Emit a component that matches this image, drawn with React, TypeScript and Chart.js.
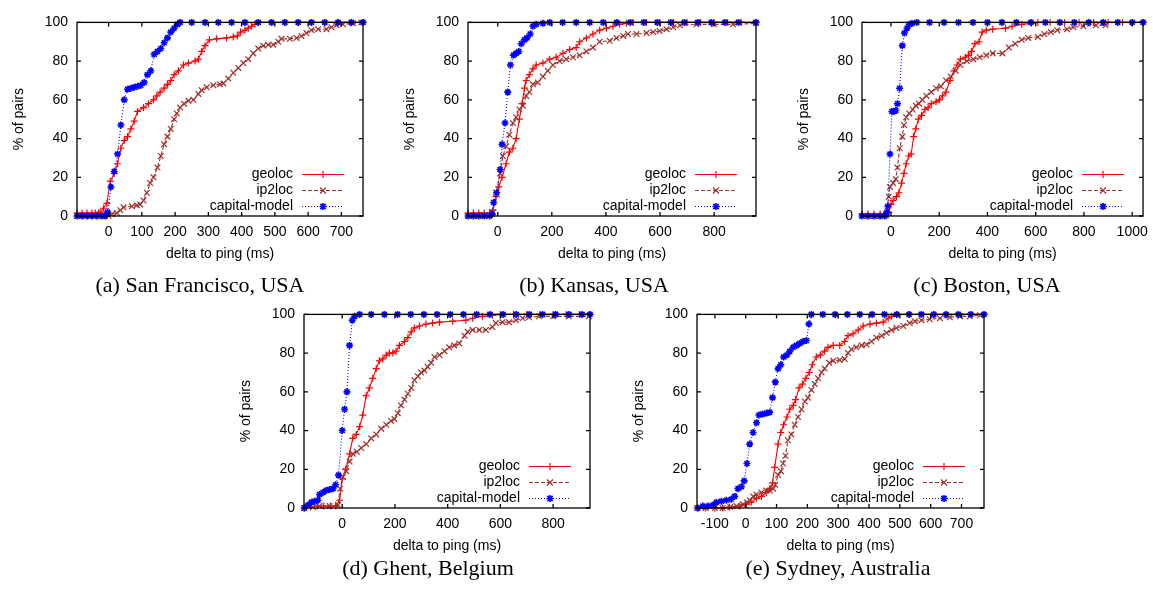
import React, { useEffect, useRef } from "react";
import { Chart, registerables } from "chart.js";

Chart.register(...registerables);

type Pt = [number, number];

// ---------------- data (delta to ping in ms, % of pairs) ----------------
const seriesNames = ["geoloc", "ip2loc", "capital-model"];
const yTicks = [0, 20, 40, 60, 80, 100];
const xTicksA = [0, 100, 200, 300, 400, 500, 600, 700];
const xTicksB = [0, 200, 400, 600, 800];
const xTicksC = [0, 200, 400, 600, 800, 1000];
const xTicksD = [0, 200, 400, 600, 800];
const xTicksE = [-100, 0, 100, 200, 300, 400, 500, 600, 700];

const sfGeoloc: Pt[] = [[-95,1.5],[-80,1.5],[-65,1.5],[-50,1.5],[-40,1.5],[-30,1.5],[-25,2],[-15,4],[-5,6.5],[5,18],[17,22],[27,27],[37,35],[47,39],[57,41],[67,45],[77,49],[87,54],[105,56],[120,58],[135,60],[145,62],[155,64],[167,66],[177,68],[187,70],[197,73],[210,75],[225,78],[240,79],[260,80],[270,81],[280,85],[290,88],[303,91],[325,91.5],[355,92],[375,92.5],[387,93],[397,95],[410,96],[420,97],[430,98],[440,99],[450,100],[490,100],[530,100],[570,100],[610,100],[650,100],[690,100],[730,100],[765,100]];
const sfIp2loc: Pt[] = [[-95,0],[-70,0],[-45,0],[-20,0],[0,0],[10,1],[25,1.5],[35,3],[45,4.5],[70,5],[85,5.5],[95,6],[105,8],[115,12],[125,17],[135,20],[147,25],[157,31],[167,37],[177,41],[187,45],[197,50],[205,53],[215,56],[227,58],[240,59.5],[255,60],[270,63],[280,65],[295,66.5],[315,67.5],[335,68],[345,68.5],[360,71],[375,74],[390,76.5],[405,79],[420,81],[435,84],[450,86.5],[465,88],[480,88.5],[495,88.5],[510,90],[520,91.5],[545,91.5],[565,92],[580,93],[595,94.5],[610,96],[630,96.5],[655,96.5],[670,97.5],[685,98.5],[705,99],[735,99.5],[760,100]];
const sfCapital: Pt[] = [[-95,0],[-80,0],[-65,0],[-50,0],[-35,0],[-20,0],[-10,0],[-3,2],[7,15],[17,23],[27,32],[37,47],[47,60],[57,65.5],[67,66],[77,66.5],[87,67],[97,67.5],[107,69],[117,73],[127,75],[137,83.5],[147,85],[157,86.5],[167,89.5],[177,92],[187,95],[197,97],[207,99],[215,100],[250,100],[290,100],[330,100],[370,100],[410,100],[450,100],[490,100],[530,100],[570,100],[610,100],[650,100],[690,100],[730,100],[765,100]];

const ksGeoloc: Pt[] = [[-110,1.5],[-90,1.5],[-70,1.5],[-50,1.5],[-30,1.5],[-18,3],[-6,10],[4,15],[16,20],[31,27],[43,33],[56,35],[68,40],[80,50],[90,58],[99,66],[105,70],[117,73],[130,76],[142,78],[167,79],[192,81],[216,82],[241,84],[266,86],[290,87],[303,90],[328,92],[352,94],[377,96],[402,97],[426,98],[451,99],[476,99.5],[501,100],[550,100],[600,100],[650,100],[700,100],[750,100],[800,100],[850,100],[900,100],[955,100]];
const ksIp2loc: Pt[] = [[-110,0],[-90,0],[-70,0],[-50,0],[-30,0.5],[-18,2],[-6,12],[9,22],[19,31],[31,36],[43,42],[56,48],[68,51],[80,55],[93,57],[105,62],[117,64],[130,68],[148,69],[167,72],[185,75],[204,78],[229,80],[253,81],[278,82],[303,83],[328,85],[352,87],[377,90],[414,90.5],[439,92],[464,93],[482,94],[513,94],[550,94.5],[575,95],[599,95.5],[624,96.5],[649,97.5],[674,98.5],[735,99],[800,99],[870,99],[955,99.5]];
const ksCapital: Pt[] = [[-110,0],[-90,0],[-70,0],[-50,0],[-30,0],[-21,1],[-15,7],[-4,12],[9,24],[16,37],[27,48],[37,64],[47,78],[58,83],[68,84],[78,85],[87,89],[99,91],[108,92],[120,94],[130,98],[142,99],[167,99.5],[192,100],[240,100],[290,100],[340,100],[390,100],[440,100],[490,100],[540,100],[590,100],[640,100],[690,100],[740,100],[790,100],[840,100],[890,100],[955,100]];

const bosGeoloc: Pt[] = [[-120,1],[-95,1],[-70,1],[-45,1],[-20,1],[-9,2],[0,6],[9,8],[23,10],[33,12],[44,17],[54,22],[63,27],[74,31],[84,32],[94,41],[103,45],[114,50],[127,52],[141,55],[154,56],[167,58],[187,59],[201,60],[214,62],[228,64],[245,70],[261,75],[274,78],[288,81],[308,82],[321,83],[334,85],[348,89],[365,90],[378,95],[395,96],[422,96.5],[475,97],[502,98],[542,99],[582,99.5],[609,100],[660,100],[720,100],[780,100],[840,100],[900,100],[960,100],[1045,100]];
const bosIp2loc: Pt[] = [[-120,0],[-95,0],[-70,0],[-45,0],[-20,0.5],[-9,10],[-4,15],[9,17],[20,19],[27,25],[36,35],[47,41],[54,47],[63,51],[76,53],[90,55],[103,57],[116,58],[130,60],[147,62],[167,64],[187,66],[207,67],[228,70],[248,72],[268,75],[288,78],[315,80],[341,81],[368,82],[395,83],[422,84],[462,84],[489,87],[515,89],[542,91],[569,92],[609,92.5],[636,94],[663,95],[689,96],[730,96.5],[756,97.5],[797,98],[850,98.5],[890,98.5]];
const bosCapital: Pt[] = [[-120,0],[-95,0],[-70,0],[-45,0],[-25,0],[-17,2],[-13,5],[-4,32],[4,54],[13,54],[20,54.5],[27,58],[36,66],[47,88],[56,94.5],[67,97],[76,99],[87,99.5],[107,100],[160,100],[220,100],[280,100],[340,100],[400,100],[460,100],[520,100],[580,100],[640,100],[700,100],[760,100],[820,100],[880,100],[940,100],[1000,100],[1045,100]];

const ghGeoloc: Pt[] = [[-145,0],[-120,0.5],[-95,1],[-70,1],[-45,1],[-25,1],[-10,4],[0,15],[13,20],[28,28],[40,36],[53,38],[66,42],[78,48],[91,58],[103,62],[116,67],[129,72],[141,76],[154,77],[167,79],[179,80],[192,80],[204,81],[217,84],[236,86],[249,88],[262,91],[274,93],[293,94],[318,95],[343,95.5],[369,96],[419,96.5],[469,97],[495,98],[532,99],[570,99.5],[600,100],[650,100],[700,100],[750,100],[800,100],[850,100],[900,100],[940,100]];
const ghIp2loc: Pt[] = [[-145,0],[-111,0.5],[-86,1],[-48,1],[-16,1.5],[-8,10],[3,16],[15,19],[28,24],[40,28],[56,29],[72,31],[91,33],[110,36],[129,38],[148,41],[167,43],[185,45],[198,46],[211,49],[223,53],[236,56],[249,59],[262,62],[274,66],[287,68],[299,70],[312,71],[324,73],[337,75],[350,78],[369,79],[388,81],[406,83],[425,84],[444,85],[464,89],[476,91],[495,92],[520,92],[545,92],[570,93.5],[583,95.5],[608,96],[633,96],[659,97],[684,98],[709,98.5],[747,99],[800,99],[860,99],[936,99]];
const ghCapital: Pt[] = [[-143,0],[-130,1.5],[-117,3],[-105,3.5],[-92,4],[-86,7],[-73,8],[-61,9],[-48,9.5],[-35,10],[-25,12],[-14,17],[0,40],[9,51],[18,60],[28,84],[38,97],[47,99],[66,100],[110,100],[160,100],[210,100],[260,100],[310,100],[360,100],[410,100],[460,100],[510,100],[560,100],[610,100],[660,100],[710,100],[760,100],[810,100],[860,100],[910,100],[940,100]];

const sydGeoloc: Pt[] = [[-158,0],[-130,0],[-100,0],[-75,0],[-52,0.5],[-19,1],[2,2],[18,3],[35,5],[51,6],[67,8],[78,10],[87,13],[94,21],[105,33],[114,39],[123,43],[134,47],[143,51],[154,53],[162,56],[173,62],[184,64],[195,67],[206,70],[216,74],[229,78],[242,79],[256,81],[267,83],[284,84],[305,84],[321,86],[332,89],[348,90],[365,92],[381,94],[403,95],[424,95.5],[446,96],[462,98],[473,99],[489,100],[530,100],[570,100],[610,100],[650,100],[690,100],[730,100],[773,100]];
const sydIp2loc: Pt[] = [[-158,0],[-130,0],[-100,0],[-75,0],[-50,0.5],[-30,1],[-9,2],[4,3],[13,4],[24,6],[35,7],[51,8],[67,9],[78,9],[89,10],[96,12],[105,17],[114,19],[121,23],[129,27],[137,35],[148,38],[159,43],[170,47],[181,51],[192,55],[202,57],[213,61],[224,64],[235,67],[246,70],[256,72],[271,75],[284,76],[305,76.5],[321,77],[332,80],[343,82],[359,83],[376,84],[392,84.5],[408,86],[424,88],[441,89],[457,90.5],[473,92],[489,93],[511,94],[532,95.5],[549,96.5],[570,97],[597,97.5],[630,98],[662,98.5],[695,99],[727,99],[760,99.5]];
const sydCapital: Pt[] = [[-155,0],[-139,1],[-122,1],[-106,1.5],[-95,3],[-79,3.5],[-63,4],[-47,4.5],[-36,6],[-25,10],[-14,11],[-5,14],[4,23],[13,33],[24,39],[35,44],[43,48],[54,48.5],[67,49],[78,49.5],[87,57],[96,65],[105,72],[114,74],[123,78],[134,79],[143,81],[154,83],[165,84],[175,85],[186,86],[197,86.5],[205,95],[213,100],[250,100],[290,100],[330,100],[370,100],[410,100],[450,100],[490,100],[530,100],[570,100],[610,100],[650,100],[690,100],[730,100],[773,100]];

// ---------------- styling / layout ----------------
const FONT_FAMILY = '"Liberation Sans", Arial, sans-serif';
const FONT_SIZE = 14;
const FONT = `${FONT_SIZE}px ${FONT_FAMILY}`;

const STYLES = [
  { color: "#ff0000", dash: [] as number[], marker: "cross", radius: 3.5, pw: 1.2 },
  { color: "#a0302c", dash: [4, 2], marker: "crossRot", radius: 4, pw: 1.2 },
  { color: "#0000ff", dash: [1, 2], marker: "star", radius: 3.5, pw: 1.6 },
];

const PAD_L = 77;
const PAD_T = 8;
const PAD_R = 6;
const PAD_B = 62;

interface PanelCfg {
  key: string;
  caption: string;
  plotLeft: number;
  plotRight: number;
  plotTop: number;
  plotBottom: number;
  xMin: number;
  xMax: number;
  xTicks: number[];
  data: Pt[][];
  capX: number;
  capY: number;
}

const panels: PanelCfg[] = [
  { key: "a", caption: "(a) San Francisco, USA", plotLeft: 77, plotRight: 363, plotTop: 13, plotBottom: 216, xMin: -95, xMax: 765, xTicks: xTicksA, data: [sfGeoloc, sfIp2loc, sfCapital], capX: 200, capY: 285 },
  { key: "b", caption: "(b) Kansas, USA", plotLeft: 468, plotRight: 756, plotTop: 13, plotBottom: 216, xMin: -110, xMax: 955, xTicks: xTicksB, data: [ksGeoloc, ksIp2loc, ksCapital], capX: 594, capY: 285 },
  { key: "c", caption: "(c) Boston, USA", plotLeft: 862, plotRight: 1150, plotTop: 13, plotBottom: 216, xMin: -120, xMax: 1045, xTicks: xTicksC, data: [bosGeoloc, bosIp2loc, bosCapital], capX: 987, capY: 285 },
  { key: "d", caption: "(d) Ghent, Belgium", plotLeft: 304, plotRight: 590, plotTop: 305, plotBottom: 508, xMin: -145, xMax: 940, xTicks: xTicksD, data: [ghGeoloc, ghIp2loc, ghCapital], capX: 428, capY: 568 },
  { key: "e", caption: "(e) Sydney, Australia", plotLeft: 697, plotRight: 984, plotTop: 305, plotBottom: 508, xMin: -158, xMax: 773, xTicks: xTicksE, data: [sydGeoloc, sydIp2loc, sydCapital], capX: 838, capY: 568 },
];

function drawMarker(ctx: CanvasRenderingContext2D, kind: string, x: number, y: number, r: number) {
  ctx.beginPath();
  if (kind === "cross" || kind === "star") {
    ctx.moveTo(x - r, y); ctx.lineTo(x + r, y);
    ctx.moveTo(x, y - r); ctx.lineTo(x, y + r);
  }
  if (kind === "crossRot" || kind === "star") {
    const d = r * 0.75;
    ctx.moveTo(x - d, y - d); ctx.lineTo(x + d, y + d);
    ctx.moveTo(x - d, y + d); ctx.lineTo(x + d, y - d);
  }
  ctx.stroke();
}

function makeFramePlugin(cfg: PanelCfg) {
  return {
    id: "gpFrame",
    afterDatasetsDraw(chart: any) {
      const { ctx, chartArea: a } = chart;
      const xs = chart.scales.x;
      const ys = chart.scales.y;
      ctx.save();
      ctx.strokeStyle = "#000";
      ctx.lineWidth = 1.3;
      ctx.setLineDash([]);
      ctx.strokeRect(a.left, a.top, a.right - a.left, a.bottom - a.top);
      ctx.beginPath();
      const tl = 4;
      cfg.xTicks.forEach((v) => {
        const px = xs.getPixelForValue(v);
        ctx.moveTo(px, a.bottom); ctx.lineTo(px, a.bottom - tl);
        ctx.moveTo(px, a.top); ctx.lineTo(px, a.top + tl);
      });
      yTicks.forEach((v) => {
        const py = ys.getPixelForValue(v);
        ctx.moveTo(a.left, py); ctx.lineTo(a.left + tl, py);
        ctx.moveTo(a.right, py); ctx.lineTo(a.right - tl, py);
      });
      ctx.stroke();
      ctx.restore();
    },
    afterDraw(chart: any) {
      const { ctx, chartArea: a } = chart;
      ctx.save();
      ctx.font = FONT;
      ctx.fillStyle = "#000";
      // axis titles
      ctx.textAlign = "center";
      ctx.textBaseline = "middle";
      ctx.fillText("delta to ping (ms)", (a.left + a.right) / 2, a.bottom + 38);
      ctx.save();
      ctx.translate(a.left - 58, (a.top + a.bottom) / 2);
      ctx.rotate(-Math.PI / 2);
      ctx.fillText("% of pairs", 0, 0);
      ctx.restore();
      // legend
      seriesNames.forEach((name, i) => {
        const y = Math.round(a.bottom - 42 + i * 16) + 0.5;
        ctx.textAlign = "right";
        ctx.fillStyle = "#000";
        ctx.fillText(name, a.right - 70, y);
        const st = STYLES[i];
        ctx.strokeStyle = st.color;
        ctx.lineWidth = 1.1;
        ctx.setLineDash(st.dash);
        ctx.beginPath();
        ctx.moveTo(a.right - 61, y);
        ctx.lineTo(a.right - 19, y);
        ctx.stroke();
        ctx.setLineDash([]);
        ctx.lineWidth = st.pw;
        drawMarker(ctx, st.marker, a.right - 40, y, st.radius);
      });
      ctx.restore();
    },
  };
}

function PanelChart({ cfg }: { cfg: PanelCfg }) {
  const ref = useRef<HTMLCanvasElement | null>(null);
  const left = cfg.plotLeft - PAD_L;
  const top = cfg.plotTop - PAD_T;
  const width = cfg.plotRight + PAD_R - left;
  const height = cfg.plotBottom + PAD_B - top;

  useEffect(() => {
    const canvas = ref.current;
    if (!canvas) return;
    const datasets = cfg.data.map((pts, i) => ({
      label: seriesNames[i],
      data: pts.map(([x, y]) => ({ x, y })),
      borderColor: STYLES[i].color,
      backgroundColor: STYLES[i].color,
      borderWidth: 1.1,
      borderDash: STYLES[i].dash,
      pointStyle: STYLES[i].marker,
      pointRadius: STYLES[i].radius,
      pointBorderWidth: STYLES[i].pw,
      pointBorderColor: STYLES[i].color,
      pointBackgroundColor: STYLES[i].color,
      showLine: true,
      tension: 0,
      clip: false as any,
      order: 3 - i,
    }));
    const tickFont = { family: FONT_FAMILY, size: FONT_SIZE };
    const chart = new Chart(canvas, {
      type: "scatter",
      data: { datasets } as any,
      options: {
        animation: false,
        responsive: false,
        maintainAspectRatio: false,
        devicePixelRatio: 1,
        events: [],
        layout: { padding: { left: 0, top: PAD_T, right: PAD_R, bottom: 0 } },
        plugins: { legend: { display: false }, tooltip: { enabled: false }, title: { display: false } },
        scales: {
          x: {
            type: "linear",
            min: cfg.xMin,
            max: cfg.xMax,
            afterBuildTicks: (s: any) => { s.ticks = cfg.xTicks.map((v) => ({ value: v })); },
            afterFit: (s: any) => { s.height = PAD_B; },
            grid: { display: false, drawTicks: false },
            border: { display: false },
            ticks: { font: tickFont, color: "#000", padding: 8, maxRotation: 0, autoSkip: false, callback: (v: any) => String(v) },
          },
          y: {
            type: "linear",
            min: 0,
            max: 100,
            afterBuildTicks: (s: any) => { s.ticks = yTicks.map((v) => ({ value: v })); },
            afterFit: (s: any) => { s.width = PAD_L; },
            grid: { display: false, drawTicks: false },
            border: { display: false },
            ticks: { font: tickFont, color: "#000", padding: 9, autoSkip: false, callback: (v: any) => String(v) },
          },
        },
      } as any,
      plugins: [makeFramePlugin(cfg)],
    });
    return () => chart.destroy();
  }, [cfg]);

  return (
    <canvas
      ref={ref}
      width={width}
      height={height}
      style={{ position: "absolute", left, top, width, height }}
    />
  );
}

export default function App() {
  return (
    <div
      style={{
        position: "absolute",
        left: 0,
        top: 0,
        width: 1153,
        height: 590,
        overflow: "hidden",
        background: "#fff",
      }}
    >
      {panels.map((p) => (
        <PanelChart key={p.key} cfg={p} />
      ))}
      {panels.map((p) => (
        <div
          key={"cap" + p.key}
          style={{
            position: "absolute",
            left: p.capX - 200,
            width: 400,
            top: p.capY - 13,
            textAlign: "center",
            fontFamily: '"Liberation Serif", "Times New Roman", serif',
            fontSize: 22,
            lineHeight: "26px",
            whiteSpace: "nowrap",
            color: "#000",
          }}
        >
          {p.caption}
        </div>
      ))}
    </div>
  );
}
